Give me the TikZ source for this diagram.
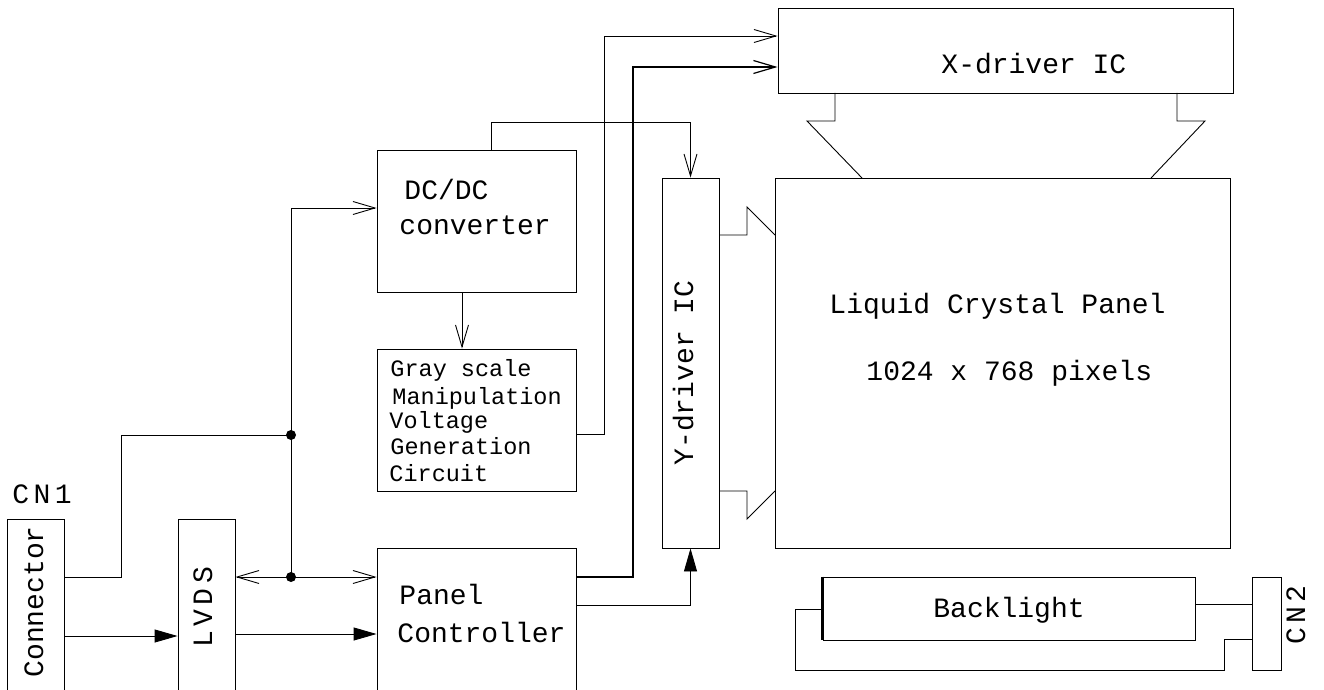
\documentclass[tikz,border=0pt]{standalone}
\usepackage{fontspec}
\setmonofont{Liberation Mono}
\usetikzlibrary{arrows.meta,fit}
\begin{document}
\begin{tikzpicture}[x=1pt,y=-1pt,line width=0.9pt,
  blk/.style={draw, inner sep=0pt},
  lbl/.style={font=\fontsize{28}{31}\selectfont\ttfamily, inner sep=0pt, anchor=base west},
  sml/.style={font=\fontsize{23.5}{27}\selectfont\ttfamily, inner sep=0pt, anchor=base west},
  spc/.style={font=\fontsize{28}{31}\selectfont\ttfamily\addfontfeature{LetterSpace=16}, inner sep=0pt, anchor=base west},
  oarr/.style={-{Straight Barb[length=22pt,width=13pt]}},
  farr/.style={-{Triangle[length=23pt,width=13pt]}},
  jdot/.style={circle, fill, inner sep=0pt, minimum size=10pt}
]
\useasboundingbox (0,0) rectangle (1324,690);

% boxes
\node[blk, fit={(7,519) (64,700)}] (conn) {};
\node[blk, fit={(178,519) (235,700)}] (lvds) {};
\node[blk, fit={(377,150) (576,292)}] (dcdc) {};
\node[blk, fit={(377,349) (576,491)}] (gray) {};
\node[blk, fit={(377,548) (576,700)}] (pc) {};
\node[blk, fit={(662,178) (719,548)}] (ydrv) {};
\node[blk, fit={(778,8) (1233,93)}] (xdrv) {};
\node[blk, fit={(775,178) (1230,548)}] (lcp) {};
\node[blk, fit={(823,577) (1195,640)}] (bl) {};
\node[blk, fit={(1252,577) (1281,670)}] (cn2) {};
\draw[line width=2.4pt] (bl.north west) -- (bl.south west);

% texts
\node[spc] (tcn1) at (12,503) {CN1};
\node[lbl, rotate=90] (tconn) at (43,678) {Connector};
\node[spc, rotate=90] (tlvds) at (212,648) {LVDS};
\node[lbl] (tdc1) at (404,199) {DC/DC};
\node[lbl] (tdc2) at (399,234) {converter};
\node[sml] (tg1) at (390,376) {Gray scale};
\node[sml] (tg2) at (392,404) {Manipulation};
\node[sml] (tg3) at (389,428) {Voltage};
\node[sml] (tg4) at (390,454) {Generation};
\node[sml] (tg5) at (389,481) {Circuit};
\node[lbl] (tpc1) at (399,604) {Panel};
\node[lbl] (tpc2) at (397,642) {Controller};
\node[lbl, rotate=90] (tyd) at (693,466) {Y-driver IC};
\node[lbl] (txd) at (941,74) {X-driver IC};
\node[lbl] (tlcp1) at (829,313) {Liquid Crystal Panel};
\node[lbl] (tlcp2) at (866,380) {1024 x 768 pixels};
\node[lbl, anchor=base] (tbl) at (1009,617) {Backlight};
\node[spc, rotate=90] (tcn2) at (1305,645) {CN2};

% helper coordinates
\node[jdot] (j1) at (291,435) {};
\node[jdot] (j2) at (291,577) {};
\coordinate (h208) at (0,208);
\coordinate (h636) at (0,636);
\coordinate (h634) at (0,634);
\coordinate (h122) at (0,122);
\coordinate (h434) at (0,434);
\coordinate (h36) at (0,36);
\coordinate (h67) at (0,67);
\coordinate (h577) at (0,577);
\coordinate (h605) at (0,605);
\coordinate (h604) at (0,604);
\coordinate (h639) at (0,639);
\coordinate (h609) at (0,609);
\coordinate (v491) at (491,0);
\coordinate (v462) at (462,0);

% connectors
\draw (conn.east |- j2) -| (121,435) -- (j1.center);
\draw[oarr] (j2.center) |- (dcdc.west |- h208);
\draw[oarr] (j2.center) -- (lvds.east |- j2);
\draw[oarr] (j2.center) -- (pc.west |- j2);
\draw[farr] (conn.east |- h636) -- (lvds.west |- h636);
\draw[farr] (lvds.east |- h634) -- (pc.west |- h634);
\draw[oarr] (dcdc.north -| v491) |- (ydrv.north |- h122) -- (ydrv.north);
\draw[oarr] (dcdc.south -| v462) -- (gray.north -| v462);
\draw[oarr] (gray.east |- h434) -| (604,36) -- (xdrv.west |- h36);
\draw[oarr, line width=1.2pt] (pc.east |- h577) -| (633,67) -- (xdrv.west |- h67);
\draw[farr] (pc.east |- h605) -| (ydrv.south);

% driver buses
\draw (719,235) -- (747,235) -- (747,207) -- (775,235);
\draw (719,491) -- (747,491) -- (747,519) -- (775,491);
\draw (835,93) -- (835,121) -- (807,121) -- (862,178);
\draw (1177,93) -- (1177,121) -- (1205,121) -- (1151,178);

% backlight wiring
\draw (bl.east |- h604) -- (cn2.west |- h604);
\draw (cn2.west |- h639) -| (1224,670) -| (795,609) -- (bl.west |- h609);
\end{tikzpicture}
\end{document}
